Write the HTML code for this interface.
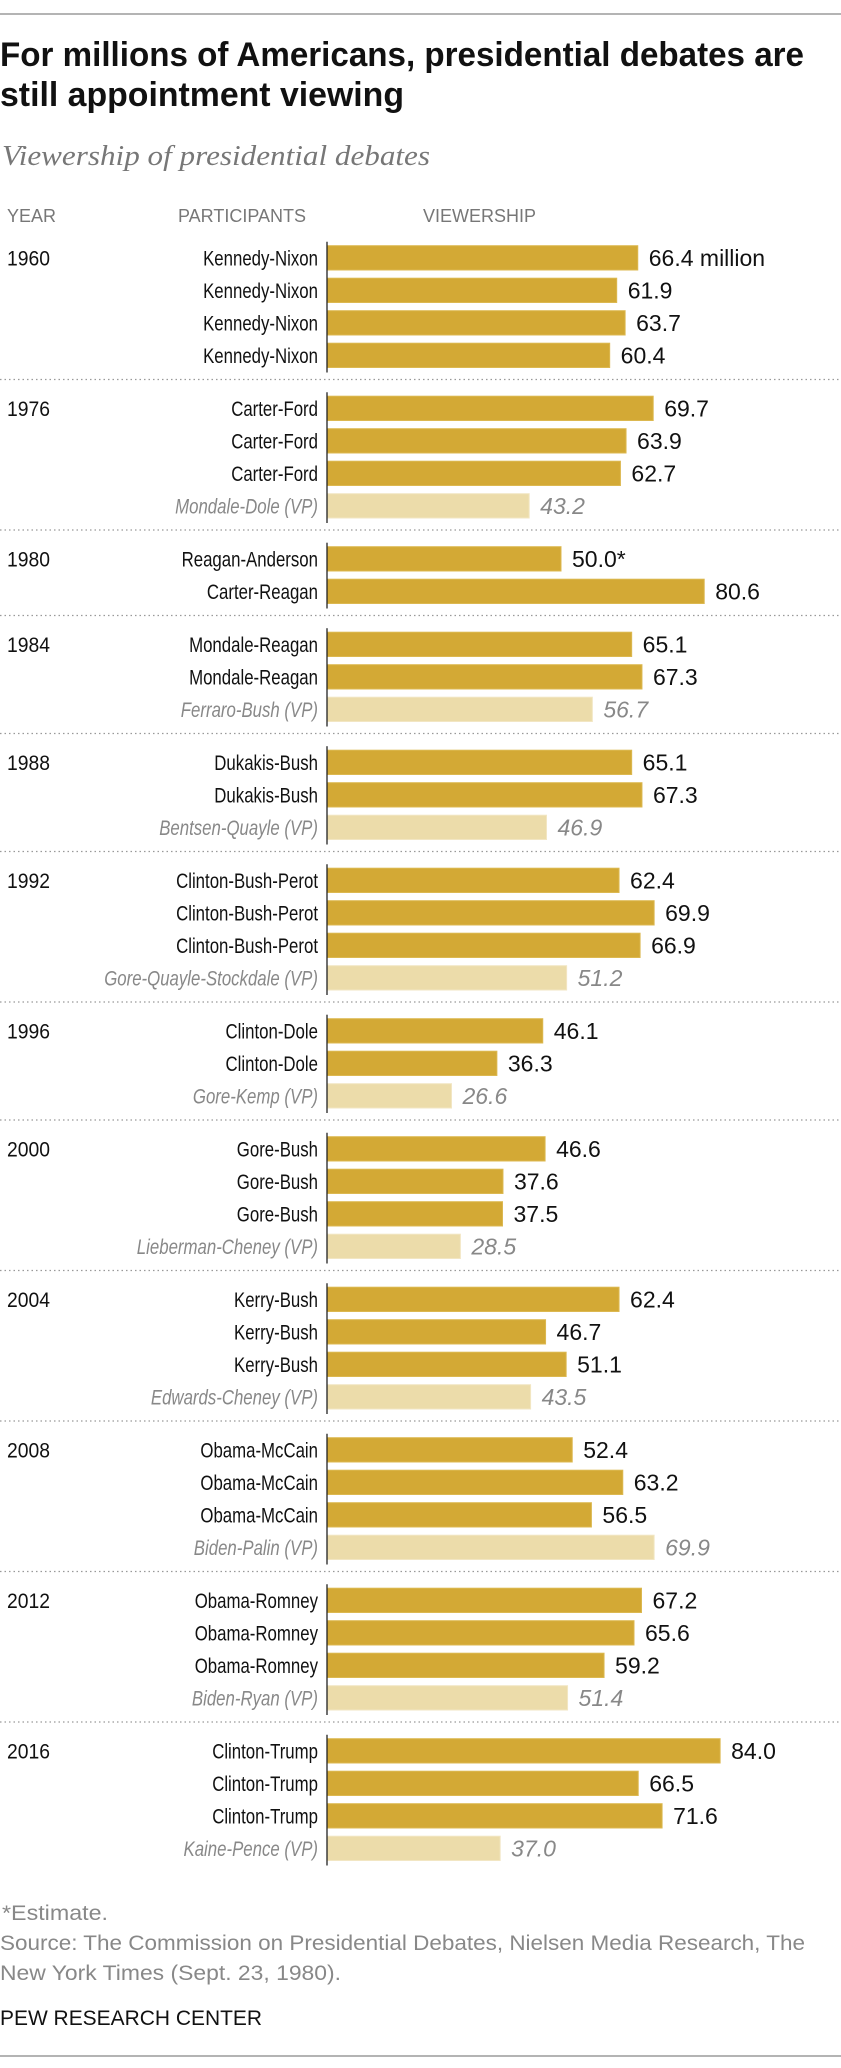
<!DOCTYPE html>
<html><head><meta charset="utf-8">
<style>
html,body{margin:0;padding:0;background:#fff;}
svg{display:block;}
text{font-family:"Liberation Sans Narrow","Liberation Sans",sans-serif;}
</style></head>
<body>
<svg id="chart" width="841" height="2068" viewBox="0 0 841 2068" xmlns="http://www.w3.org/2000/svg">
<line x1="0" y1="14" x2="841" y2="14" stroke="#888" stroke-width="1.3"/>
<text x="0" y="66" font-size="34" font-weight="bold" fill="#111" textLength="804" lengthAdjust="spacingAndGlyphs">For millions of Americans, presidential debates are</text>
<text x="0" y="106" font-size="34" font-weight="bold" fill="#111" textLength="404" lengthAdjust="spacingAndGlyphs">still appointment viewing</text>
<text x="2" y="165" font-size="28" font-style="italic" fill="#777" textLength="428" lengthAdjust="spacingAndGlyphs" style="font-family:'Liberation Serif',serif">Viewership of presidential debates</text>
<text x="7" y="222" font-size="18" fill="#777">YEAR</text>
<text x="178" y="222" font-size="18" fill="#777">PARTICIPANTS</text>
<text x="423" y="222" font-size="18" fill="#777">VIEWERSHIP</text>
<g id="bars"></g>
<text x="2" y="1920" font-size="21" fill="#888" textLength="106" lengthAdjust="spacingAndGlyphs">*Estimate.</text>
<text x="0" y="1950" font-size="21" fill="#888" textLength="805" lengthAdjust="spacingAndGlyphs">Source: The Commission on Presidential Debates, Nielsen Media Research, The</text>
<text x="0" y="1980" font-size="21" fill="#888" textLength="341" lengthAdjust="spacingAndGlyphs">New York Times (Sept. 23, 1980).</text>
<text x="0" y="2025" font-size="21" fill="#111" textLength="262" lengthAdjust="spacingAndGlyphs">PEW RESEARCH CENTER</text>
<line x1="0" y1="2056" x2="841" y2="2056" stroke="#888" stroke-width="1.3"/>
</svg>
<script>
const years = ["1960","1976","1980","1984","1988","1992","1996","2000","2004","2008","2012","2016"];
const participants = [
 ["Kennedy-Nixon","Kennedy-Nixon","Kennedy-Nixon","Kennedy-Nixon"],
 ["Carter-Ford","Carter-Ford","Carter-Ford","Mondale-Dole (VP)"],
 ["Reagan-Anderson","Carter-Reagan"],
 ["Mondale-Reagan","Mondale-Reagan","Ferraro-Bush (VP)"],
 ["Dukakis-Bush","Dukakis-Bush","Bentsen-Quayle (VP)"],
 ["Clinton-Bush-Perot","Clinton-Bush-Perot","Clinton-Bush-Perot","Gore-Quayle-Stockdale (VP)"],
 ["Clinton-Dole","Clinton-Dole","Gore-Kemp (VP)"],
 ["Gore-Bush","Gore-Bush","Gore-Bush","Lieberman-Cheney (VP)"],
 ["Kerry-Bush","Kerry-Bush","Kerry-Bush","Edwards-Cheney (VP)"],
 ["Obama-McCain","Obama-McCain","Obama-McCain","Biden-Palin (VP)"],
 ["Obama-Romney","Obama-Romney","Obama-Romney","Biden-Ryan (VP)"],
 ["Clinton-Trump","Clinton-Trump","Clinton-Trump","Kaine-Pence (VP)"]
];
const viewership = [
 [66.4,61.9,63.7,60.4],
 [69.7,63.9,62.7,43.2],
 [50.0,80.6],
 [65.1,67.3,56.7],
 [65.1,67.3,46.9],
 [62.4,69.9,66.9,51.2],
 [46.1,36.3,26.6],
 [46.6,37.6,37.5,28.5],
 [62.4,46.7,51.1,43.5],
 [52.4,63.2,56.5,69.9],
 [67.2,65.6,59.2,51.4],
 [84.0,66.5,71.6,37.0]
];
const valueLabels = [
 ["66.4 million","61.9","63.7","60.4"],
 ["69.7","63.9","62.7","43.2"],
 ["50.0*","80.6"],
 ["65.1","67.3","56.7"],
 ["65.1","67.3","46.9"],
 ["62.4","69.9","66.9","51.2"],
 ["46.1","36.3","26.6"],
 ["46.6","37.6","37.5","28.5"],
 ["62.4","46.7","51.1","43.5"],
 ["52.4","63.2","56.5","69.9"],
 ["67.2","65.6","59.2","51.4"],
 ["84.0","66.5","71.6","37.0"]
];

const NS="http://www.w3.org/2000/svg";
const g=document.getElementById('bars');
const X0=327, PX=4.68;
function xScale(v){return X0+v*PX;}
const PITCH=32.5, BH=24.3, GAP=20.5;
let y=245.7;
function mk(tag,attrs){const e=document.createElementNS(NS,tag);for(const k in attrs)e.setAttribute(k,attrs[k]);return e;}
function squeeze(el,f){const w=el.getComputedTextLength();el.setAttribute('textLength',(w*f).toFixed(1));el.setAttribute('lengthAdjust','spacingAndGlyphs');}
years.forEach((yr,gi)=>{
  const gTop=y;
  const t=mk('text',{x:7,y:gTop+BH/2+7.5,'font-size':21,fill:'#111'});
  t.textContent=yr;
  
  
  g.appendChild(t);
  squeeze(t,0.92);
  participants[gi].forEach((p,i)=>{
    const vp=p.indexOf('(VP)')>=0;
    const v=viewership[gi][i];
    const r=mk('rect',{x:X0,y:y,width:xScale(v)-X0,height:BH,fill:vp?'#ecdcaa':'#d3a935',stroke:vp?'#f2e6c3':'#dcb850','stroke-width':1});
    
    
    g.appendChild(r);
    const lab=mk('text',{x:318,y:y+BH/2+7.5,'font-size':21,'text-anchor':'end',fill:vp?'#888':'#111','font-style':vp?'italic':'normal'});
    lab.textContent=p;
    
    
    g.appendChild(lab);
    squeeze(lab,0.8);
    const val=mk('text',{x:xScale(v)+11,y:y+BH/2+8,'font-size':23,fill:vp?'#888':'#111','font-style':vp?'italic':'normal'});
    val.textContent=valueLabels[gi][i];
    
    
    g.appendChild(val);
    y+=PITCH;
  });
  const lastBottom=y-PITCH+BH;
  const ax=mk('line',{x1:X0,y1:gTop-4,x2:X0,y2:lastBottom+5,stroke:'#222','stroke-width':1.3});
  
  
  g.appendChild(ax);
  if(gi<years.length-1){
    const sep=mk('line',{x1:0,y1:lastBottom+12,x2:841,y2:lastBottom+12,stroke:'#999','stroke-width':1.3,'stroke-dasharray':'1.5,3'});
    
    
    g.appendChild(sep);
  }
  y+=GAP;
});
</script>
</body></html>
